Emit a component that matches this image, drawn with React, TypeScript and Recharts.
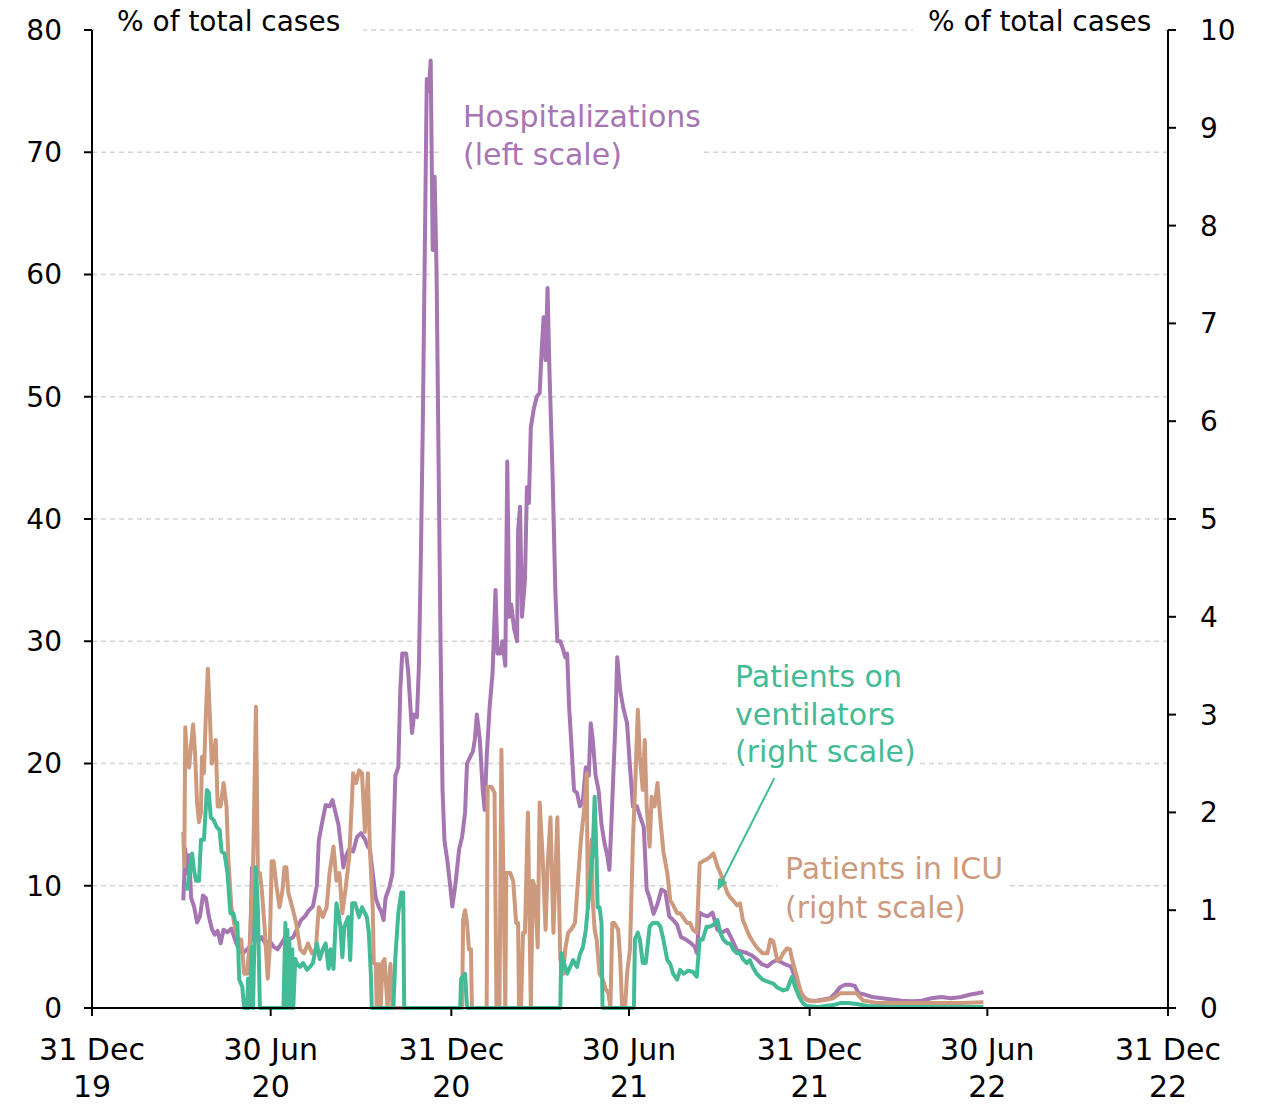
import React from "react"
import { LineChart, Line, XAxis, YAxis, CartesianGrid, ReferenceLine } from "recharts"

// x = days after 31 Dec 2019
const hospitalizations: [number, number][] = [
  [93, 8.8], [95, 13], [97, 11], [99, 12.5], [101, 9], [104, 8.3], [107, 7], [110, 7.5], [113, 9.2], [116, 9],
  [119, 7.5], [122, 6.5], [125, 6], [128, 6.3], [131, 5.3], [134, 6.4], [138, 6.2], [142, 6.5], [146, 5.5], [150, 4.7],
  [154, 4.5], [158, 4.8], [161, 5], [163, 11.5], [165, 5.5], [169, 5.5], [173, 5.8], [177, 5.2], [181, 5.5], [185, 5],
  [189, 4.8], [193, 5.3], [197, 5.8], [201, 5.6], [205, 5.8], [209, 6.5], [213, 7.2], [217, 7.5], [221, 8], [225, 8.3],
  [229, 10], [231, 13.7], [234, 15], [238, 16.6], [242, 16.5], [245, 17], [248, 16], [251, 15], [254, 13], [256, 11.5],
  [259, 12.5], [262, 13], [266, 12.8], [270, 14], [274, 14.3], [278, 13.8], [281, 13.2], [283, 13], [286, 11], [289, 9],
  [292, 8.3], [295, 7.8], [297, 7.2], [299, 9], [303, 9.9], [306, 11], [309, 19], [312, 19.7], [314, 26], [316, 29],
  [320, 29], [322, 27.6], [324, 25], [326, 22.5], [328, 24], [331, 23.8], [333, 28], [335, 37], [337, 48], [339, 62],
  [341, 76], [343, 75], [345, 77.5], [347, 62], [349, 68], [351, 60], [353, 45], [355, 30], [357, 18], [359, 13.7],
  [362, 12], [365, 9.9], [367, 8.3], [370, 10], [374, 13], [377, 14], [380, 16], [382, 20], [385, 20.5], [388, 21],
  [390, 22], [392, 24], [395, 22], [398, 17.8], [400, 16.2], [402, 20.5], [405, 24.6], [408, 27.4], [411, 34.2], [413, 29],
  [416, 29], [418, 30], [421, 28], [423, 44.7], [425, 32], [427, 33], [430, 31], [433, 30], [434, 39], [436, 41],
  [438, 32], [441, 35], [443, 42.6], [445, 41.3], [447, 47.5], [450, 49], [453, 50], [456, 50.3], [458, 53.8], [460, 56.5],
  [462, 53], [464, 58.9], [466, 52], [469, 44], [472, 34], [474, 30], [477, 30], [480, 29.3], [482, 28.7], [484, 29],
  [486, 24.6], [488, 22], [491, 17.8], [494, 17.6], [497, 16.5], [500, 17], [503, 19.7], [506, 19], [508, 23.3], [510, 22],
  [513, 19], [516, 17.8], [519, 15], [522, 13.5], [525, 12.4], [527, 11.3], [529, 15], [531, 19], [533, 23], [535, 28.7],
  [538, 26], [541, 24.6], [545, 23.3], [548, 19.7], [551, 16.5], [555, 16.5], [559, 15.5], [562, 14.8], [565, 9.7], [568, 9],
  [572, 7.7], [576, 8.5], [580, 9.7], [584, 9.5], [588, 7.5], [592, 7.2], [596, 6.8], [600, 5.8], [605, 5.6], [610, 5.3],
  [614, 5], [616, 4.5], [619, 7.8], [623, 7.6], [627, 7.5], [632, 7.8], [637, 6.4], [642, 6.2], [647, 6.4], [652, 5.6],
  [657, 4.7], [662, 4.6], [667, 4.5], [672, 4.3], [677, 4], [682, 3.6], [688, 3.4], [694, 3.8], [698, 3.9], [703, 3.7],
  [708, 3.5], [712, 3.4], [716, 2.5], [720, 1.5], [724, 1], [728, 0.7], [731, 0.6], [738, 0.6], [745, 0.7], [752, 0.8],
  [757, 1.2], [762, 1.7], [767, 1.9], [772, 1.9], [777, 1.8], [781, 1.2], [787, 1.1], [795, 0.9], [805, 0.8], [815, 0.7],
  [825, 0.6], [835, 0.55], [845, 0.6], [855, 0.8], [865, 0.9], [875, 0.8], [885, 0.9], [895, 1.1], [902, 1.2], [908, 1.3],
]

const icu: [number, number][] = [
  [93, 1.8], [94, 1.45], [95, 2.87], [97, 2.5], [99, 2.46], [101, 2.7], [103, 2.9], [105, 2.6], [107, 2.1], [109, 1.9],
  [111, 2], [112, 2.57], [114, 2.4], [116, 3], [118, 3.47], [120, 3], [122, 2.5], [124, 2.6], [126, 2.74], [128, 2.06],
  [131, 2.06], [134, 2.3], [137, 2.06], [139, 1.5], [142, 1.03], [146, 0.8], [149, 0.7], [152, 0.7], [155, 0.35], [158, 0.35],
  [161, 0.7], [164, 1.4], [167, 3.08], [169, 1.38], [171, 1.38], [173, 1.2], [176, 0.8], [179, 0.3], [181, 0.6], [183, 1.5],
  [185, 1.5], [188, 1.24], [191, 1.03], [194, 1.2], [196, 1.44], [198, 1.44], [200, 1.18], [204, 1.03], [208, 0.87], [212, 0.6],
  [216, 0.56], [220, 0.66], [224, 0.56], [228, 0.6], [231, 1.03], [235, 0.93], [239, 1.03], [242, 1.38], [246, 1.65], [249, 1.3],
  [252, 1.38], [255, 0.97], [258, 1.2], [262, 1.54], [266, 2.4], [269, 2.3], [272, 2.43], [275, 2.4], [278, 1.8], [281, 2.4],
  [283, 1.65], [286, 1], [287, 0.46], [289, 0.45], [290, 0], [292, 0.45], [294, 0], [296, 0.47], [298, 0.5], [301, 0],
  [304, 0.45], [306, 0], [377, 0], [378, 0.9], [380, 1], [382, 0.87], [384, 0.6], [386, 0.6], [387, 0], [402, 0],
  [403, 2.26], [407, 2.26], [410, 2.2], [412, 0], [415, 0], [417, 2.64], [419, 1.38], [421, 0], [422, 1.38], [426, 1.38],
  [429, 1.3], [432, 0.87], [434, 0.87], [435, 0], [437, 0], [439, 0.77], [441, 0.77], [444, 2], [447, 0], [449, 1.3],
  [451, 1.24], [454, 0.62], [456, 2.1], [459, 1.55], [462, 0.8], [464, 1.44], [467, 1.95], [470, 0.77], [474, 1.95], [477, 0.5],
  [480, 0.35], [482, 0.6], [485, 0.77], [488, 0.8], [492, 0.87], [495, 1.3], [498, 1.72], [502, 2.1], [504, 2.4], [505, 1.03],
  [507, 1.4], [509, 1.72], [510, 1.1], [512, 0.8], [514, 0.7], [517, 0.35], [520, 0.3], [523, 0.2], [526, 0.15], [528, 0],
  [530, 0.87], [532, 0.87], [536, 0.8], [538, 0.5], [540, 0], [543, 0], [545, 0.35], [548, 0.6], [551, 1.72], [553, 2.2],
  [556, 3.05], [558, 2.57], [561, 2.23], [563, 2.74], [565, 2.06], [568, 1.65], [570, 2.16], [573, 2.06], [576, 2.3], [579, 1.92],
  [582, 1.6], [586, 1.38], [589, 1.1], [592, 1.05], [596, 0.97], [599, 0.97], [602, 0.93], [606, 0.87], [609, 0.87], [612, 0.8],
  [616, 0.77], [619, 1.48], [622, 1.5], [626, 1.52], [629, 1.54], [633, 1.58], [637, 1.45], [640, 1.38], [643, 1.3], [647, 1.18],
  [650, 1.13], [653, 1.1], [657, 1.05], [660, 1.07], [663, 0.9], [667, 0.8], [670, 0.73], [673, 0.68], [677, 0.62], [683, 0.56],
  [688, 0.56], [691, 0.7], [694, 0.68], [698, 0.49], [701, 0.5], [704, 0.56], [708, 0.61], [711, 0.6], [713, 0.5], [718, 0.32],
  [721, 0.2], [724, 0.12], [728, 0.08], [735, 0.07], [745, 0.08], [755, 0.1], [762, 0.15], [770, 0.15], [779, 0.15], [785, 0.08],
  [800, 0.05], [830, 0.05], [860, 0.05], [885, 0.05], [908, 0.06],
]

const ventilators: [number, number][] = [
  [97, 1.2], [99, 1.38], [102, 1.58], [104, 1.4], [106, 1.3], [109, 1.3], [111, 1.72], [114, 1.72], [117, 2.23], [119, 2.2],
  [121, 1.95], [124, 1.92], [127, 1.85], [130, 1.82], [132, 1.6], [135, 1.58], [138, 1.38], [141, 0.97], [144, 0.97], [146, 0.87],
  [148, 0.87], [150, 0.29], [153, 0.22], [155, 0], [158, 0], [159, 0.3], [160, 0], [163, 0.62], [164, 0], [167, 1.44],
  [169, 1], [171, 0], [195, 0], [197, 0.87], [198, 0], [199, 0.8], [200, 0], [201, 0.7], [202, 0], [204, 0.6],
  [205, 0], [207, 0.5], [209, 0.45], [212, 0.42], [215, 0.46], [219, 0.39], [222, 0.42], [225, 0.46], [229, 0.66], [232, 0.5],
  [235, 0.6], [238, 0.66], [241, 0.4], [243, 0.6], [246, 0.4], [249, 1.07], [251, 0.97], [253, 0.83], [255, 0.52], [257, 0.83],
  [261, 0.93], [263, 0.49], [265, 1.07], [268, 1.07], [272, 0.93], [275, 1.03], [278, 0.97], [280, 0.93], [282, 0.77], [284, 0.35],
  [285, 0], [307, 0], [309, 0.52], [312, 0.97], [315, 1.18], [317, 1.18], [318, 0], [375, 0], [376, 0.3], [380, 0.35],
  [382, 0], [477, 0], [478, 0.56], [481, 0.45], [484, 0.35], [487, 0.42], [490, 0.49], [494, 0.42], [497, 0.55], [500, 0.62],
  [503, 0.8], [507, 1.24], [510, 1.6], [512, 2.16], [514, 1.5], [515, 1.03], [517, 1.03], [519, 0.87], [520, 0], [552, 0],
  [553, 0.7], [556, 0.77], [558, 0.7], [561, 0.46], [564, 0.46], [568, 0.83], [571, 0.87], [576, 0.87], [579, 0.83], [582, 0.7],
  [586, 0.49], [589, 0.45], [592, 0.35], [596, 0.29], [599, 0.39], [603, 0.35], [607, 0.38], [612, 0.37], [616, 0.32], [619, 0.7],
  [622, 0.7], [626, 0.83], [629, 0.83], [633, 0.85], [637, 0.9], [640, 0.77], [643, 0.7], [647, 0.66], [650, 0.66], [653, 0.6],
  [657, 0.56], [660, 0.56], [663, 0.5], [667, 0.46], [670, 0.49], [673, 0.42], [677, 0.35], [683, 0.29], [688, 0.27], [694, 0.25],
  [698, 0.21], [704, 0.18], [708, 0.19], [713, 0.32], [716, 0.22], [720, 0.12], [724, 0.05], [728, 0.02], [740, 0.01], [755, 0.03],
  [762, 0.05], [770, 0.05], [779, 0.04], [790, 0.02], [810, 0.01], [908, 0.01],
]

const xTicks = [0, 182, 366, 547, 731, 912, 1096]
const xTickLabels = [
  ["31 Dec", "19"], ["30 Jun", "20"], ["31 Dec", "20"], ["30 Jun", "21"],
  ["31 Dec", "21"], ["30 Jun", "22"], ["31 Dec", "22"],
]
const leftTicks = [0, 10, 20, 30, 40, 50, 60, 70, 80]
const rightTicks = [0, 1, 2, 3, 4, 5, 6, 7, 8, 9, 10]

const PURPLE = "#a676b2"
const TAN = "#cd9a7d"
const GREEN = "#42bb96"
const FONT = "'DejaVu Sans', sans-serif"

const toPoints = (rows: [number, number][]) => rows.map(([day, v]) => ({ day, v }))

function XTick(props: any) {
  const { x, y, payload } = props
  const i = xTicks.indexOf(payload.value)
  const [a, b] = xTickLabels[i] || ["", ""]
  return (
    <text x={x} y={y} textAnchor="middle" fontSize={30} fill="#000" fontFamily={FONT}>
      <tspan x={x} dy={42}>{a}</tspan>
      <tspan x={x} dy={37}>{b}</tspan>
    </text>
  )
}

function Arrow(props: any) {
  const { x1, y1, x2, y2 } = props
  const ang = Math.atan2(y2 - y1, x2 - x1)
  const len = 12
  const w = 5
  const bx = x2 - len * Math.cos(ang)
  const by = y2 - len * Math.sin(ang)
  const px = -Math.sin(ang) * w
  const py = Math.cos(ang) * w
  return (
    <g>
      <line x1={x1} y1={y1} x2={bx} y2={by} stroke={GREEN} strokeWidth={2} />
      <polygon points={`${x2},${y2} ${bx + px},${by + py} ${bx - px},${by - py}`} fill={GREEN} />
    </g>
  )
}

const labelStyle: React.CSSProperties = {
  position: "absolute",
  background: "#fff",
  fontFamily: FONT,
  fontSize: 30,
  lineHeight: "38px",
  whiteSpace: "nowrap",
  boxSizing: "border-box",
}

export default function App() {
  return (
    <div style={{ position: "absolute", left: 0, top: 0, width: 1267, height: 1104, background: "#fff" }}>
      <LineChart width={1267} height={1104} margin={{ top: 30, right: 0, bottom: 0, left: 0 }} style={{ fontFamily: FONT }}>
        <CartesianGrid yAxisId="left" vertical={false} stroke="#d4d4d4" strokeDasharray="5 4" strokeWidth={1.5} />
        <XAxis
          dataKey="day"
          type="number"
          domain={[0, 1096]}
          ticks={xTicks}
          interval={0}
          height={96}
          tick={<XTick />}
          tickSize={8}
          axisLine={{ stroke: "#000", strokeWidth: 2 }}
          tickLine={{ stroke: "#000", strokeWidth: 2 }}
        />
        <YAxis
          yAxisId="left"
          domain={[0, 80]}
          ticks={leftTicks}
          interval={0}
          width={92}
          tickSize={8}
          tickMargin={22}
          tick={{ fontSize: 28, fill: "#000", fontFamily: FONT }}
          axisLine={{ stroke: "#000", strokeWidth: 2 }}
          tickLine={{ stroke: "#000", strokeWidth: 2 }}
        />
        <YAxis
          yAxisId="right"
          orientation="right"
          domain={[0, 10]}
          ticks={rightTicks}
          interval={0}
          width={99}
          tickSize={8}
          tickMargin={24}
          tick={{ fontSize: 28, fill: "#000", fontFamily: FONT }}
          axisLine={{ stroke: "#000", strokeWidth: 2 }}
          tickLine={{ stroke: "#000", strokeWidth: 2 }}
        />
        <Line yAxisId="left" data={toPoints(hospitalizations)} dataKey="v" type="linear" stroke={PURPLE} strokeWidth={4} strokeLinejoin="round" dot={false} isAnimationActive={false} />
        <Line yAxisId="right" data={toPoints(icu)} dataKey="v" type="linear" stroke={TAN} strokeWidth={4} strokeLinejoin="round" dot={false} isAnimationActive={false} />
        <Line yAxisId="right" data={toPoints(ventilators)} dataKey="v" type="linear" stroke={GREEN} strokeWidth={4} strokeLinejoin="round" dot={false} isAnimationActive={false} />
        <ReferenceLine
          yAxisId="right"
          segment={[{ x: 695, y: 2.35 }, { x: 637, y: 1.2 }]}
          shape={<Arrow />}
          ifOverflow="visible"
        />
      </LineChart>

      <div style={{ ...labelStyle, left: 95, top: 3, width: 268, paddingLeft: 22, fontSize: 28, color: "#000" }}>
        % of total cases
      </div>
      <div style={{ ...labelStyle, left: 913, top: 3, width: 252, paddingLeft: 15, fontSize: 28, color: "#000" }}>
        % of total cases
      </div>
      <div style={{ ...labelStyle, left: 442, top: 98, width: 262, paddingLeft: 21, color: PURPLE }}>
        Hospitalizations<br />(left scale)
      </div>
      <div style={{ ...labelStyle, left: 732, top: 658, width: 188, paddingLeft: 3, lineHeight: "37.5px", color: GREEN }}>
        Patients on<br />ventilators<br />(right scale)
      </div>
      <div style={{ ...labelStyle, left: 778, top: 849, width: 232, paddingLeft: 7, lineHeight: "39px", color: TAN }}>
        Patients in ICU<br />(right scale)
      </div>
    </div>
  )
}
